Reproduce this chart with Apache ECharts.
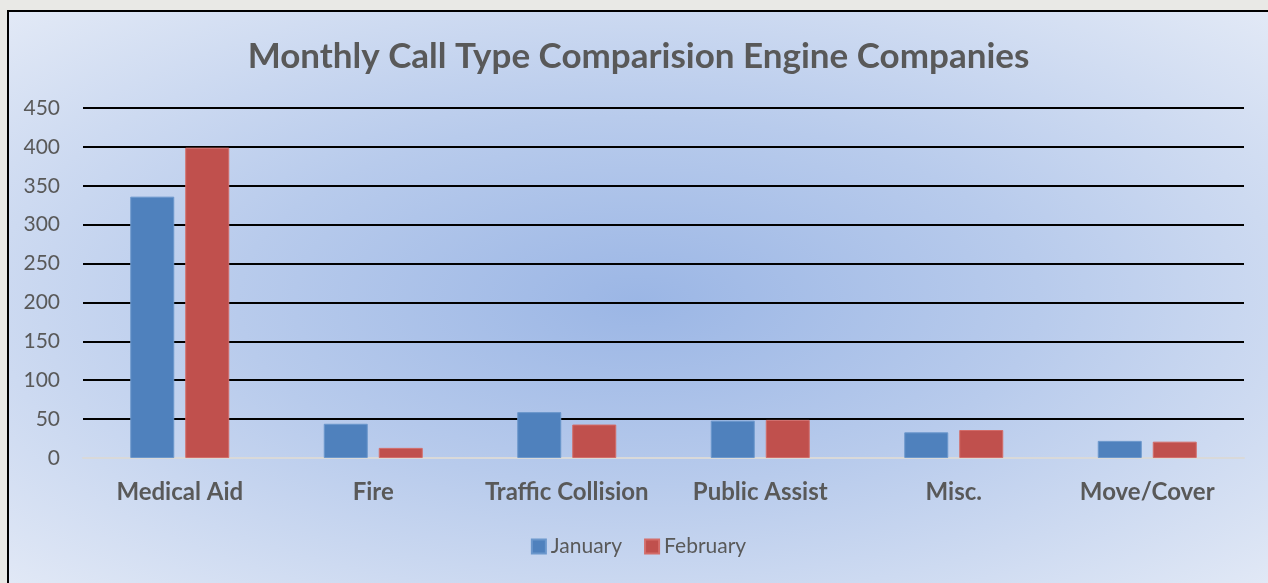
<!DOCTYPE html>
<html>
<head>
<meta charset="utf-8">
<script src="https://cdn.jsdelivr.net/npm/echarts@6/dist/echarts.min.js"></script>
<style>
  html, body { margin: 0; padding: 0; width: 1268px; height: 583px; overflow: hidden; background: #e9e9e6; }
  .chartbox {
    position: absolute; left: 7px; top: 10px;
    width: 1259px; height: 580px;
    border-left: 2px solid #000; border-top: 2px solid #000;
    background: radial-gradient(ellipse farthest-corner at 50% 50%, #9bb6e5 0%, #b8cbec 45%, #e2e9f6 100%);
  }
  #chart { width: 100%; height: 100%; }
</style>
</head>
<body>
<div class="chartbox"><div id="chart"></div></div>
<script>
  // categories and values
  var categories = ['Medical Aid', 'Fire', 'Traffic Collision', 'Public Assist', 'Misc.', 'Move/Cover']
  var januaryData = [336, 44, 59, 48, 33, 22]
  var februaryData = [399, 13, 43, 49, 36, 21]
  var seriesNames = ['January', 'February']

  var myChart = echarts.init(document.getElementById('chart'))
  myChart.setOption({
    animation: false,
    textStyle: { fontFamily: 'Lato' },
    title: {
      text: 'Monthly Call Type Comparision Engine Companies',
      left: 'center',
      top: 22,
      textStyle: { fontSize: 35, fontWeight: 'bold', color: '#595959', fontFamily: 'Lato' }
    },
    legend: {
      data: seriesNames,
      bottom: 30,
      left: 'center',
      icon: 'rect',
      itemWidth: 14,
      itemHeight: 14,
      itemGap: 22,
      textStyle: { fontSize: 21, color: '#595959' }
    },
    grid: { left: 74, right: 24, top: 96, height: 350 },
    xAxis: {
      type: 'category',
      data: categories,
      axisLine: { lineStyle: { color: '#d9d9d9', width: 2 } },
      axisTick: { show: false },
      axisLabel: { interval: 0, fontSize: 24, fontWeight: 'bold', color: '#595959', margin: 22 }
    },
    yAxis: {
      type: 'value',
      min: 0,
      max: 450,
      interval: 50,
      axisLine: { show: false },
      axisTick: { show: false },
      axisLabel: { fontSize: 21, color: '#595959', margin: 23 },
      splitLine: { lineStyle: { color: '#000', width: 2 } }
    },
    series: [
      {
        name: seriesNames[0],
        type: 'bar',
        data: januaryData,
        barWidth: 44,
        barGap: '25%',
        itemStyle: { color: '#4f81bd', borderColor: '#6b97cc', borderWidth: 1 }
      },
      {
        name: seriesNames[1],
        type: 'bar',
        data: februaryData,
        barWidth: 44,
        itemStyle: { color: '#c0504d', borderColor: '#d36c69', borderWidth: 1 }
      }
    ]
  })
</script>
</body>
</html>
